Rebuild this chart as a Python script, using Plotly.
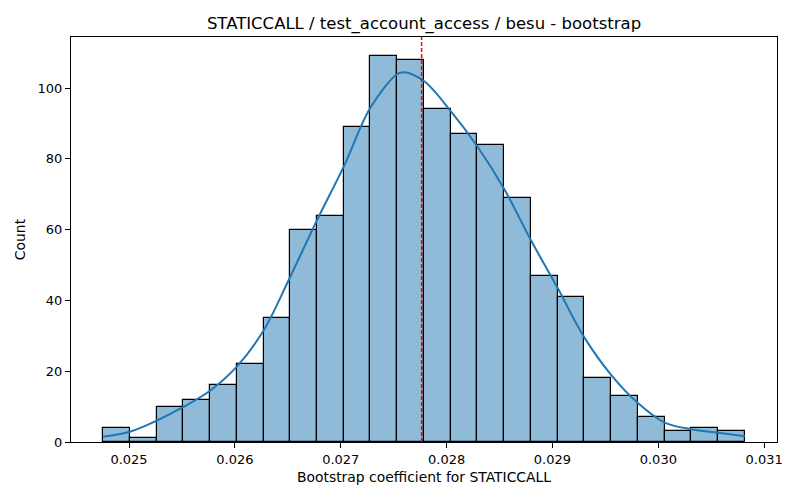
import plotly.graph_objects as go

# Histogram data
bin_start = 0.024755
bin_width = 0.0002526
counts = [4, 1, 10, 12, 16, 22, 35, 60, 64, 89, 109, 108, 94, 87, 84, 69, 47, 41, 18, 13, 7, 3, 4, 3]

# KDE curve points, x in data units, y in counts
kde_x = [0.024755, 0.025008, 0.025260, 0.025513, 0.025765, 0.026018, 0.026271, 0.026523,
         0.026776, 0.027028, 0.027281, 0.027534, 0.027600, 0.027786, 0.028039, 0.028291,
         0.028544, 0.028797, 0.029049, 0.029302, 0.029554, 0.029807, 0.030060, 0.030312,
         0.030565, 0.030818]
kde_y = [1.5, 2.9, 6.0, 9.9, 14.5, 21.3, 31.5, 46.7, 62.7, 77.8, 94.5, 104.0, 104.5, 102.0,
         93.5, 83.5, 71.5, 57.0, 43.5, 29.5, 19.0, 11.0, 5.5, 3.6, 2.6, 1.6]

mean_value = 0.027764
x_ticks = [0.025, 0.026, 0.027, 0.028, 0.029, 0.030, 0.031]
y_ticks = [0, 20, 40, 60, 80, 100]

centers = [bin_start + (i + 0.5) * bin_width for i in range(len(counts))]

fig = go.Figure()
fig.add_trace(go.Bar(
    x=centers, y=counts, width=[bin_width] * len(counts),
    marker=dict(color="rgba(31,119,180,0.5)", line=dict(color="black", width=1.2)),
    showlegend=False, hoverinfo="x+y",
))
fig.add_trace(go.Scatter(
    x=kde_x, y=kde_y, mode="lines", line=dict(color="#1f77b4", width=2, shape="spline"),
    showlegend=False,
))
fig.add_shape(type="line", xref="x", yref="paper", x0=mean_value, x1=mean_value, y0=0, y1=1,
              line=dict(color="red", width=1.5, dash="4px,2px"))

font = "DejaVu Sans"
fig.update_layout(
    width=800, height=500,
    margin=dict(l=71, r=23, t=37, b=58, autoexpand=False),
    paper_bgcolor="white", plot_bgcolor="white",
    bargap=0,
    font=dict(family=font, size=13, color="black"),
    title=dict(text="STATICCALL / test_account_access / besu - bootstrap",
               xref="paper", x=0.5, xanchor="center",
               yref="container", y=1 - 23 / 500, yanchor="middle",
               automargin=False,
               font=dict(family=font, size=16.5, color="black")),
)
fig.update_xaxes(
    range=[0.024452, 0.031121], tickvals=x_ticks, tickformat=".3f",
    showline=True, linecolor="black", linewidth=1, mirror=True, automargin=False,
    ticks="outside", ticklen=5, tickcolor="black", showgrid=False, zeroline=False,
    title=dict(text="Bootstrap coefficient for STATICCALL", standoff=6, font=dict(size=13.9)),
    tickfont=dict(size=13),
)
fig.update_yaxes(
    range=[0, 114.45], tickvals=y_ticks,
    showline=True, linecolor="black", linewidth=1, mirror=True, automargin=False,
    ticks="outside", ticklen=5, tickcolor="black", showgrid=False, zeroline=False,
    title=dict(text="Count", standoff=8, font=dict(size=13.9)),
    tickfont=dict(size=13),
)

fig.write_html("out.html", config={"displayModeBar": False},
               post_script="document.body.style.margin='0';document.body.style.overflow='hidden';")
